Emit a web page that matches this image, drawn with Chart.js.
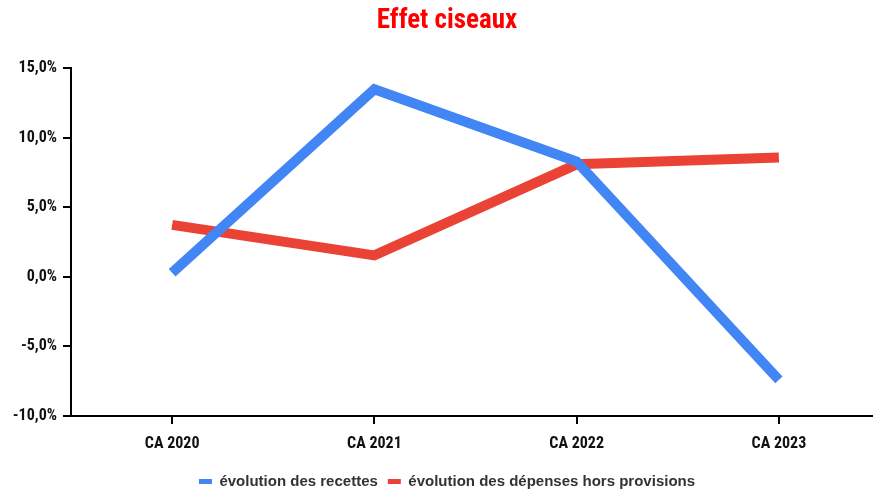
<!DOCTYPE html>
<html>
<head>
<meta charset="utf-8">
<script src="https://cdn.jsdelivr.net/npm/chart.js@4/dist/chart.umd.min.js"></script>
<style>
  html, body { margin: 0; padding: 0; background: #fff; overflow: hidden; }
  #wrap { width: 873px; height: 489px; overflow: hidden; }
</style>
</head>
<body>
<div id="wrap"><canvas id="myChart" width="894" height="499"></canvas></div>
<script>
  const years = ['CA 2020', 'CA 2021', 'CA 2022', 'CA 2023'];
  const recettes = [0.3, 13.5, 8.3, -7.4];
  const depenses = [3.75, 1.55, 8.1, 8.6];
  const seriesNames = ['évolution des recettes', 'évolution des dépenses hors provisions'];

  // narrow bold face like the original
  const narrow = "'Liberation Sans Narrow', 'Roboto Condensed', 'DejaVu Sans Condensed', 'Liberation Sans', Arial, sans-serif";
  const plain = "'Liberation Sans', Arial, sans-serif";

  const ctx = document.getElementById('myChart').getContext('2d');
  const myChart = new Chart(ctx, {
    type: 'line',
    data: {
      labels: years,
      datasets: [{
        label: seriesNames[0],
        data: recettes,
        borderColor: '#4285F4',
        backgroundColor: '#4285F4',
        borderWidth: 10,
        pointRadius: 0,
        tension: 0
      }, {
        label: seriesNames[1],
        data: depenses,
        borderColor: '#EA4335',
        backgroundColor: '#EA4335',
        borderWidth: 10,
        pointRadius: 0,
        tension: 0
      }]
    },
    options: {
      responsive: false,
      animation: false,
      layout: { padding: 0 },
      plugins: {
        title: {
          display: true,
          text: 'Effet ciseaux',
          color: '#FF0000',
          font: { family: narrow, size: 27, weight: 'bold condensed' },
          padding: { top: 5, bottom: 31 }
        },
        legend: {
          position: 'bottom',
          labels: {
            color: '#333',
            font: { family: plain, size: 15, weight: 'bold' },
            boxWidth: 13,
            boxHeight: 5,
            padding: 10,
            generateLabels(chart) {
              const items = Chart.defaults.plugins.legend.labels.generateLabels(chart);
              items.forEach(it => { it.lineWidth = 0; });
              return items;
            }
          }
        },
        tooltip: { enabled: false }
      },
      scales: {
        x: {
          offset: true,
          afterFit(scale) { scale.height = 48; },
          grid: { display: true, drawOnChartArea: false, drawTicks: true, tickLength: 8, color: '#000', lineWidth: 2 },
          border: { color: '#000', width: 2 },
          ticks: { color: '#111', font: { family: narrow, size: 16, weight: 'bold condensed' }, padding: 10 }
        },
        y: {
          min: -10,
          max: 15,
          afterFit(scale) { scale.width = 71; },
          grid: { display: true, drawOnChartArea: false, drawTicks: true, tickLength: 8, color: '#000', lineWidth: 2 },
          border: { color: '#000', width: 2 },
          ticks: {
            stepSize: 5,
            color: '#111',
            font: { family: narrow, size: 16, weight: 'bold condensed' },
            padding: 6,
            callback: v => v.toFixed(1).replace('.', ',') + '%'
          }
        },
        // empty right-hand gutter
        y2: {
          position: 'right',
          afterFit(scale) { scale.width = 14; },
          grid: { display: false },
          border: { display: false },
          ticks: { display: false }
        }
      }
    }
  });
</script>
</body>
</html>
